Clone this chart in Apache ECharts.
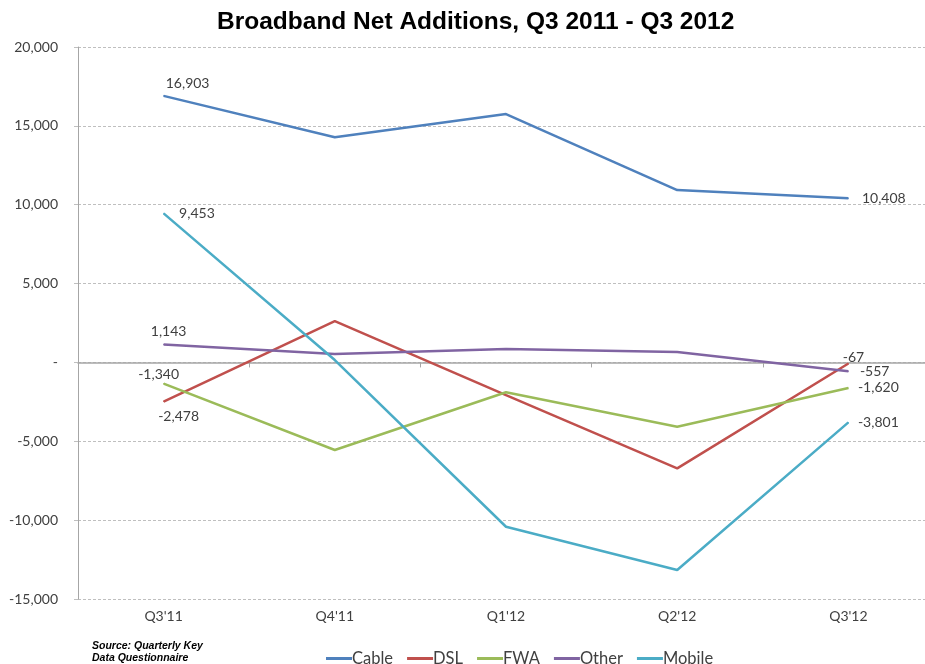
<!DOCTYPE html>
<html>
<head>
<meta charset="utf-8">
<script src="https://cdn.jsdelivr.net/npm/echarts@6/dist/echarts.min.js"></script>
<style>html,body{margin:0;padding:0;background:#fff;overflow:hidden;}#c{width:934px;height:664px;}</style>
</head>
<body>
<div id="c"></div>
<script>
var categories = ["Q3'11", "Q4'11", "Q1'12", "Q2'12", "Q3'12"];
var cable  = [16903, 14280, 15750, 10930, 10408];
var dsl    = [-2478, 2625, -2070, -6720, -67];
var fwa    = [-1340, -5550, -1890, -4080, -1620];
var other  = [1143, 530, 850, 660, -557];
var mobile = [9453, 150, -10420, -13160, -3801];
var seriesNames = ['Cable', 'DSL', 'FWA', 'Other', 'Mobile'];
var seriesColors = ['#4F81BD', '#C0504D', '#9BBB59', '#8064A2', '#4BACC6'];
var yTicks = [-15000, -10000, -5000, 0, 5000, 10000, 15000, 20000];

var FONT = 'Lato, "Liberation Sans", Arial, sans-serif';
function fmt(v) {
  if (v === 0) return '-';
  return v.toLocaleString('en-US');
}
// label placement for first / last point of each series
var labelCfg = {
  Cable:  [{position: 'top', offset: [24, 0]}, {position: 'right', distance: 13}],
  DSL:    [{position: 'bottom', offset: [15, 2]}, {position: 'top', offset: [5, 6]}],
  FWA:    [{position: 'top', offset: [-5, 3]}, {position: 'right', distance: 9}],
  Other:  [{position: 'top', offset: [5, 0]}, {position: 'right', distance: 11}],
  Mobile: [{position: 'right', distance: 15}, {position: 'right', distance: 9}]
};
var allData = [cable, dsl, fwa, other, mobile];

function buildData(name, vals) {
  return vals.map(function (v, i) {
    var item = {value: v, label: {show: false}};
    if (i === 0 || i === vals.length - 1) {
      var c = labelCfg[name][i === 0 ? 0 : 1];
      item.label = Object.assign({
        show: true,
        formatter: function (p) { return fmt(p.value); },
        color: '#404040',
        fontSize: 14,
        fontFamily: FONT
      }, c);
    }
    return item;
  });
}

var series = seriesNames.map(function (n, k) {
  return {
    name: n,
    type: 'line',
    xAxisIndex: 0,
    data: buildData(n, allData[k]),
    symbol: 'circle',
    symbolSize: 1,
    showSymbol: true,
    showAllSymbol: true,
    smooth: false,
    lineStyle: {width: 2.5, color: seriesColors[k]},
    itemStyle: {color: seriesColors[k]},
    emphasis: {disabled: true},
    z: 3 + k
  };
});

var chart = echarts.init(document.getElementById('c'), null, {renderer: 'canvas'});
chart.setOption({
  backgroundColor: '#ffffff',
  animation: false,
  title: {
    text: 'Broadband Net Additions, Q3 2011 - Q3 2012',
    left: 212,
    top: 5,
    textStyle: {fontFamily: '"Liberation Sans", Arial, sans-serif', fontWeight: 'bold', fontSize: 24.5, color: '#000'}
  },
  grid: {left: 78, top: 47, bottom: 65, right: 0, containLabel: false},
  legend: {
    data: seriesNames,
    left: 321,
    top: 645,
    icon: 'rect',
    itemWidth: 26,
    itemHeight: 3,
    itemGap: 14,
    textStyle: {fontFamily: FONT, fontSize: 16.5, color: '#404040', padding: [0, 0, 0, -5]}
  },
  xAxis: [{
    type: 'category',
    data: categories,
    boundaryGap: true,
    position: 'bottom',
    axisLine: {show: false, onZero: false},
    axisTick: {show: false},
    axisLabel: {fontFamily: FONT, fontSize: 14, color: '#404040', margin: 10},
    splitLine: {show: false}
  }, {
    type: 'category',
    data: categories,
    boundaryGap: true,
    position: 'bottom',
    axisLine: {show: true, onZero: true, lineStyle: {color: '#a6a6a6', width: 1.5}},
    axisTick: {show: true, length: 5, lineStyle: {color: '#a6a6a6'}},
    axisLabel: {show: false},
    splitLine: {show: false}
  }],
  yAxis: {
    type: 'value',
    min: yTicks[0],
    max: yTicks[yTicks.length - 1],
    interval: 5000,
    axisLine: {show: true, lineStyle: {color: '#a6a6a6', width: 1}},
    axisTick: {show: true, length: 6, lineStyle: {color: '#bfbfbf', type: 'dashed'}},
    axisLabel: {formatter: fmt, fontFamily: FONT, fontSize: 14, color: '#404040', margin: 20},
    splitLine: {show: true, lineStyle: {color: '#bfbfbf', type: [3, 2], width: 1}}
  },
  graphic: [{
    type: 'text',
    left: 92,
    top: 640,
    style: {
      text: 'Source: Quarterly Key\nData Questionnaire',
      font: 'italic bold 10.5px "Liberation Sans", Arial, sans-serif',
      fill: '#000',
      lineHeight: 12
    }
  }],
  series: series
});
</script>
</body>
</html>
